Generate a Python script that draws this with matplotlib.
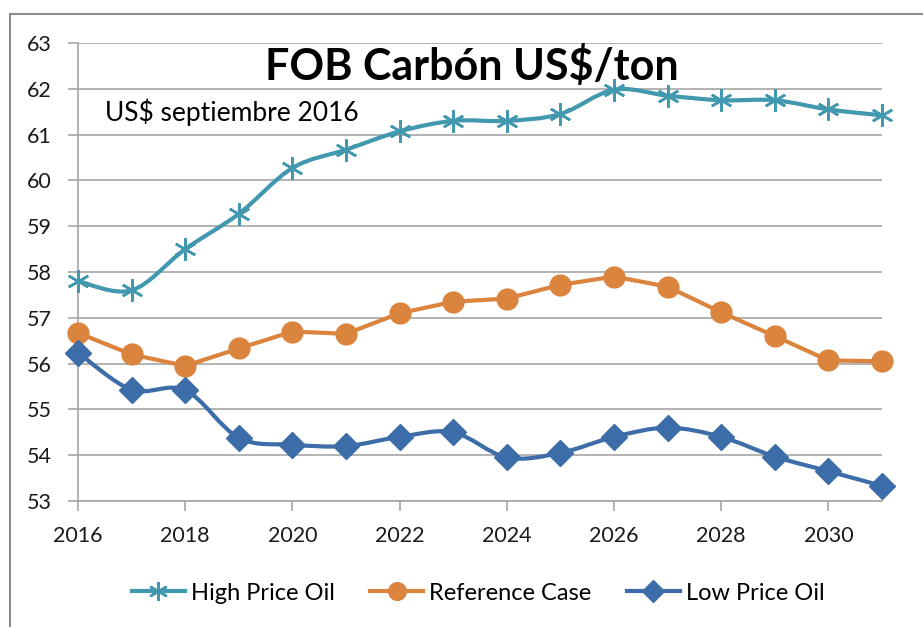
import numpy as np
import matplotlib.pyplot as plt
from matplotlib.patches import Rectangle, PathPatch
from matplotlib.path import Path
from matplotlib.lines import Line2D

plt.switch_backend('Agg')
plt.rcParams['font.family'] = ['Lato', 'DejaVu Sans']

# Data
years = list(range(2016, 2032))
high_price_oil = [57.8, 57.6, 58.5, 59.27, 60.27, 60.67, 61.07, 61.3,
                  61.3, 61.45, 61.98, 61.85, 61.75, 61.75, 61.55, 61.42]
reference_case = [56.67, 56.2, 55.95, 56.33, 56.7, 56.65, 57.1, 57.35,
                  57.42, 57.72, 57.9, 57.68, 57.12, 56.6, 56.07, 56.05]
low_price_oil = [56.24, 55.43, 55.42, 54.38, 54.23, 54.2, 54.4, 54.5,
                 53.95, 54.05, 54.4, 54.6, 54.4, 53.97, 53.65, 53.33]
x_ticks = list(range(2016, 2031, 2))
y_ticks = list(range(53, 64))


def smooth_path(xs, ys):
    """Excel-like smoothed line: Catmull-Rom segments as cubic Beziers."""
    p = np.column_stack([xs, ys]).astype(float)
    verts = [p[0]]
    codes = [Path.MOVETO]
    n = len(p)
    for i in range(n - 1):
        p0 = p[i - 1] if i > 0 else p[i]
        p3 = p[i + 2] if i + 2 < n else p[i + 1]
        c1 = p[i] + (p[i + 1] - p0) / 6
        c2 = p[i + 1] - (p3 - p[i]) / 6
        verts += [c1, c2, p[i + 1]]
        codes += [Path.CURVE4] * 3
    return Path(verts, codes)


W, H = 923, 627
fig = plt.figure(figsize=(W / 100, H / 100), dpi=100)
ax = fig.add_axes([78 / W, 1 - 501 / H, (882 - 78) / W, (501 - 43) / H])

grid_col = '#a6a6a6'
series = [
    ('High Price Oil', high_price_oil, '#4198af', dict(marker=(6, 2, 0), ms=16, mew=1.8), True),
    ('Reference Case', reference_case, '#db843d', dict(marker='o', ms=15), False),
    ('Low Price Oil', low_price_oil, '#3d6da8', dict(marker='D', ms=13), True),
]
handles = []
for name, vals, col, mk, smooth in series:
    if smooth:
        ax.add_patch(PathPatch(smooth_path(years, vals), fill=False, ec=col,
                               lw=3, capstyle='round', joinstyle='round', zorder=3))
        ax.plot(years, vals, ls='none', color=col, zorder=4, clip_on=False, **mk)
    else:
        ax.plot(years, vals, color=col, lw=3, zorder=4, clip_on=False, **mk)
    leg_mk = dict(mk)
    leg_mk['ms'] = mk['ms'] * 0.85
    handles.append(Line2D([], [], color=col, lw=3, label=name, **leg_mk))

ax.set_xlim(2016, 2031)
ax.set_ylim(53, 63)
ax.set_xticks(x_ticks)
ax.set_yticks(y_ticks)
ax.tick_params(axis='both', labelsize=15.5, colors=grid_col, labelcolor='#1a1a1a',
               length=7, width=1.2, direction='out')
ax.tick_params(axis='x', pad=11)
ax.tick_params(axis='y', pad=12)
ax.yaxis.grid(True, color=grid_col, lw=1.2)
ax.set_axisbelow(True)
for s in ['top', 'right']:
    ax.spines[s].set_visible(False)
for s in ['left', 'bottom']:
    ax.spines[s].set_color(grid_col)
    ax.spines[s].set_linewidth(1.2)

fig.text(472 / W, 1 - 66 / H, 'FOB Carbón US$/ton', fontsize=31,
         fontweight='bold', ha='center', va='center')
fig.text(105 / W, 1 - 112 / H, 'US$ septiembre 2016', fontsize=19,
         ha='left', va='center')

fig.legend(handles=handles, loc='center', bbox_to_anchor=(478 / W, 1 - 593 / H), ncol=3,
           frameon=False, fontsize=17, handlelength=2.25, columnspacing=1.5,
           handletextpad=0.25)

# outer chart frame
fig.patches.append(Rectangle((10 / W, -0.1), 1.2, 1 - 14 / H + 0.1,
                             transform=fig.transFigure, fill=False,
                             ec='#8c8c8c', lw=1.5))

fig.savefig('out.png', dpi=100)
